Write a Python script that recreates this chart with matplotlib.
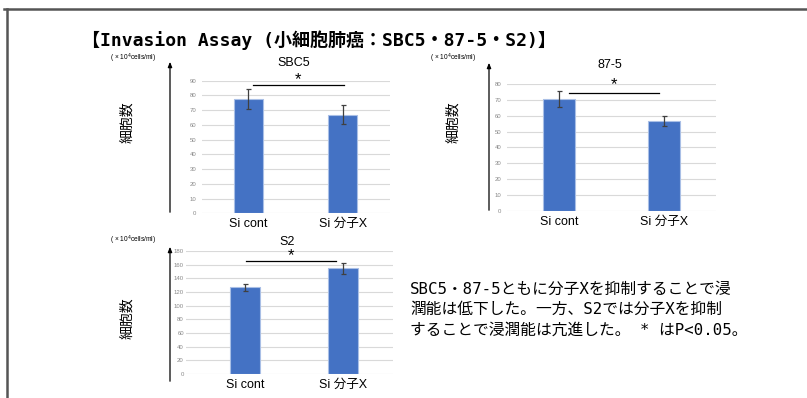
import matplotlib
matplotlib.use("Agg")
import matplotlib.pyplot as plt
from matplotlib.lines import Line2D

W, H = 807, 398
categories = ["Si cont", "Si 分子X"]
panel_titles = ["SBC5", "87-5", "S2"]
values = {"SBC5": [77.5, 67.0], "87-5": [70.5, 56.5], "S2": [127.0, 155.0]}
errors = {"SBC5": [7.0, 6.5], "87-5": [5.0, 3.0], "S2": [5.0, 8.0]}
yticks = {"SBC5": list(range(0, 91, 10)), "87-5": list(range(0, 81, 10)),
          "S2": list(range(0, 181, 20))}
title_text = "【Invasion Assay (小細胞肺癌：SBC5・87-5・S2)】"
note_lines = ["SBC5・87-5ともに分子Xを抑制することで浸",
              "潤能は低下した。一方、S2では分子Xを抑制",
              "することで浸潤能は亢進した。 * はP<0.05。"]
unit_text = "( × 10$^{4}$cells/ml)"
ylabel_text = "細胞数"

JP = ['Noto Sans CJK JP', 'DejaVu Sans']
SANS = ['Liberation Sans', 'Noto Sans CJK JP']
MONO = ['DejaVu Sans Mono', 'Noto Sans CJK JP']

fig = plt.figure(figsize=(W / 100, H / 100), dpi=100)


def fx(x):
    return x / W


def fy(y):
    return 1 - y / H


layout = {
    "SBC5": dict(l=202, r=390, y0=213.3, ytop=80.7, xlim=(-0.49, 1.5),
                 sig=(0.05, 1.01, 86.8), star=91.0, ax_x=170, arr=(215, 59),
                 ylab=(127, 122), unit=(133, 58), title_y=63, pad=4),
    "87-5": dict(l=507, r=716, y0=210.7, ytop=84.0, xlim=(-0.5, 1.5),
                 sig=(0.09, 0.95, 74.5), star=79.5, ax_x=489, arr=(213, 60),
                 ylab=(453, 122), unit=(453, 58), title_y=65, pad=4),
    "S2": dict(l=186, r=393, y0=374.0, ytop=251.0, xlim=(-0.6, 1.51),
               sig=(0.015, 0.93, 165.4), star=173.0, ax_x=170, arr=(384, 244),
               ylab=(127, 318), unit=(133, 240), title_y=242, pad=1.5),
}

for name in panel_titles:
    L = layout[name]
    ax = fig.add_axes([fx(L["l"]), fy(L["y0"]), (L["r"] - L["l"]) / W,
                       (L["y0"] - L["ytop"]) / H])
    ax.set_ylim(0, yticks[name][-1])
    ax.set_xlim(*L["xlim"])
    ax.bar([0, 1], values[name], width=0.31, color="#4472C4",
           edgecolor="#A9BFE6", linewidth=0.8, zorder=3)
    ax.errorbar([0, 1], values[name], yerr=errors[name], fmt="none",
                ecolor="#404040", elinewidth=0.9, capsize=1.8, capthick=0.9, zorder=4)
    ax.set_yticks(yticks[name])
    ax.set_yticklabels([str(t) for t in yticks[name]], fontsize=4.3,
                       color="#888888", family=SANS)
    ax.tick_params(axis="y", length=0, pad=L["pad"])
    ax.set_xticks([0, 1])
    ax.set_xticklabels(categories, fontsize=9, family=SANS)
    ax.tick_params(axis="x", length=0, pad=3.5)
    ax.grid(axis="y", color="#D9D9D9", linewidth=0.8, zorder=0)
    for s in ax.spines.values():
        s.set_visible(False)
    x1, x2, ys = L["sig"]
    ax.plot([x1, x2], [ys, ys], color="black", linewidth=0.9, clip_on=False)
    ax.text((x1 + x2) / 2, L["star"], "*", ha="center", va="center",
            fontsize=12, clip_on=False, family=SANS)
    fig.text(fx((L["l"] + L["r"]) / 2 - 2), fy(L["title_y"]), name,
             ha="center", va="center", fontsize=9, family=SANS)
    fig.add_artist(matplotlib.patches.FancyArrowPatch(
        (fx(L["ax_x"]), fy(L["arr"][0])), (fx(L["ax_x"]), fy(L["arr"][1])),
        transform=fig.transFigure, arrowstyle="-|>,head_length=3,head_width=1.2",
        color="black", linewidth=0.9, mutation_scale=1))
    fig.text(fx(L["unit"][0]), fy(L["unit"][1]), unit_text, ha="center",
             va="center", fontsize=4.8, family=SANS)
    fig.text(fx(L["ylab"][0]), fy(L["ylab"][1]), ylabel_text, ha="center",
             va="center", rotation=90, fontsize=10, family=JP)

fig.text(fx(82), fy(40), title_text, ha="left", va="center", fontsize=13,
         fontweight="bold", family=MONO)

for i, line in enumerate(note_lines):
    fig.text(fx(410), fy(289 + i * 20.5), line, ha="left", va="center",
             fontsize=11.3, family=MONO)

fig.add_artist(Line2D([fx(4), fx(807)], [fy(9), fy(9)], transform=fig.transFigure,
                      color="#555555", linewidth=1.8))
fig.add_artist(Line2D([fx(7), fx(7)], [fy(9), fy(398)], transform=fig.transFigure,
                      color="#555555", linewidth=1.8))

fig.savefig("out.png", dpi=100)
